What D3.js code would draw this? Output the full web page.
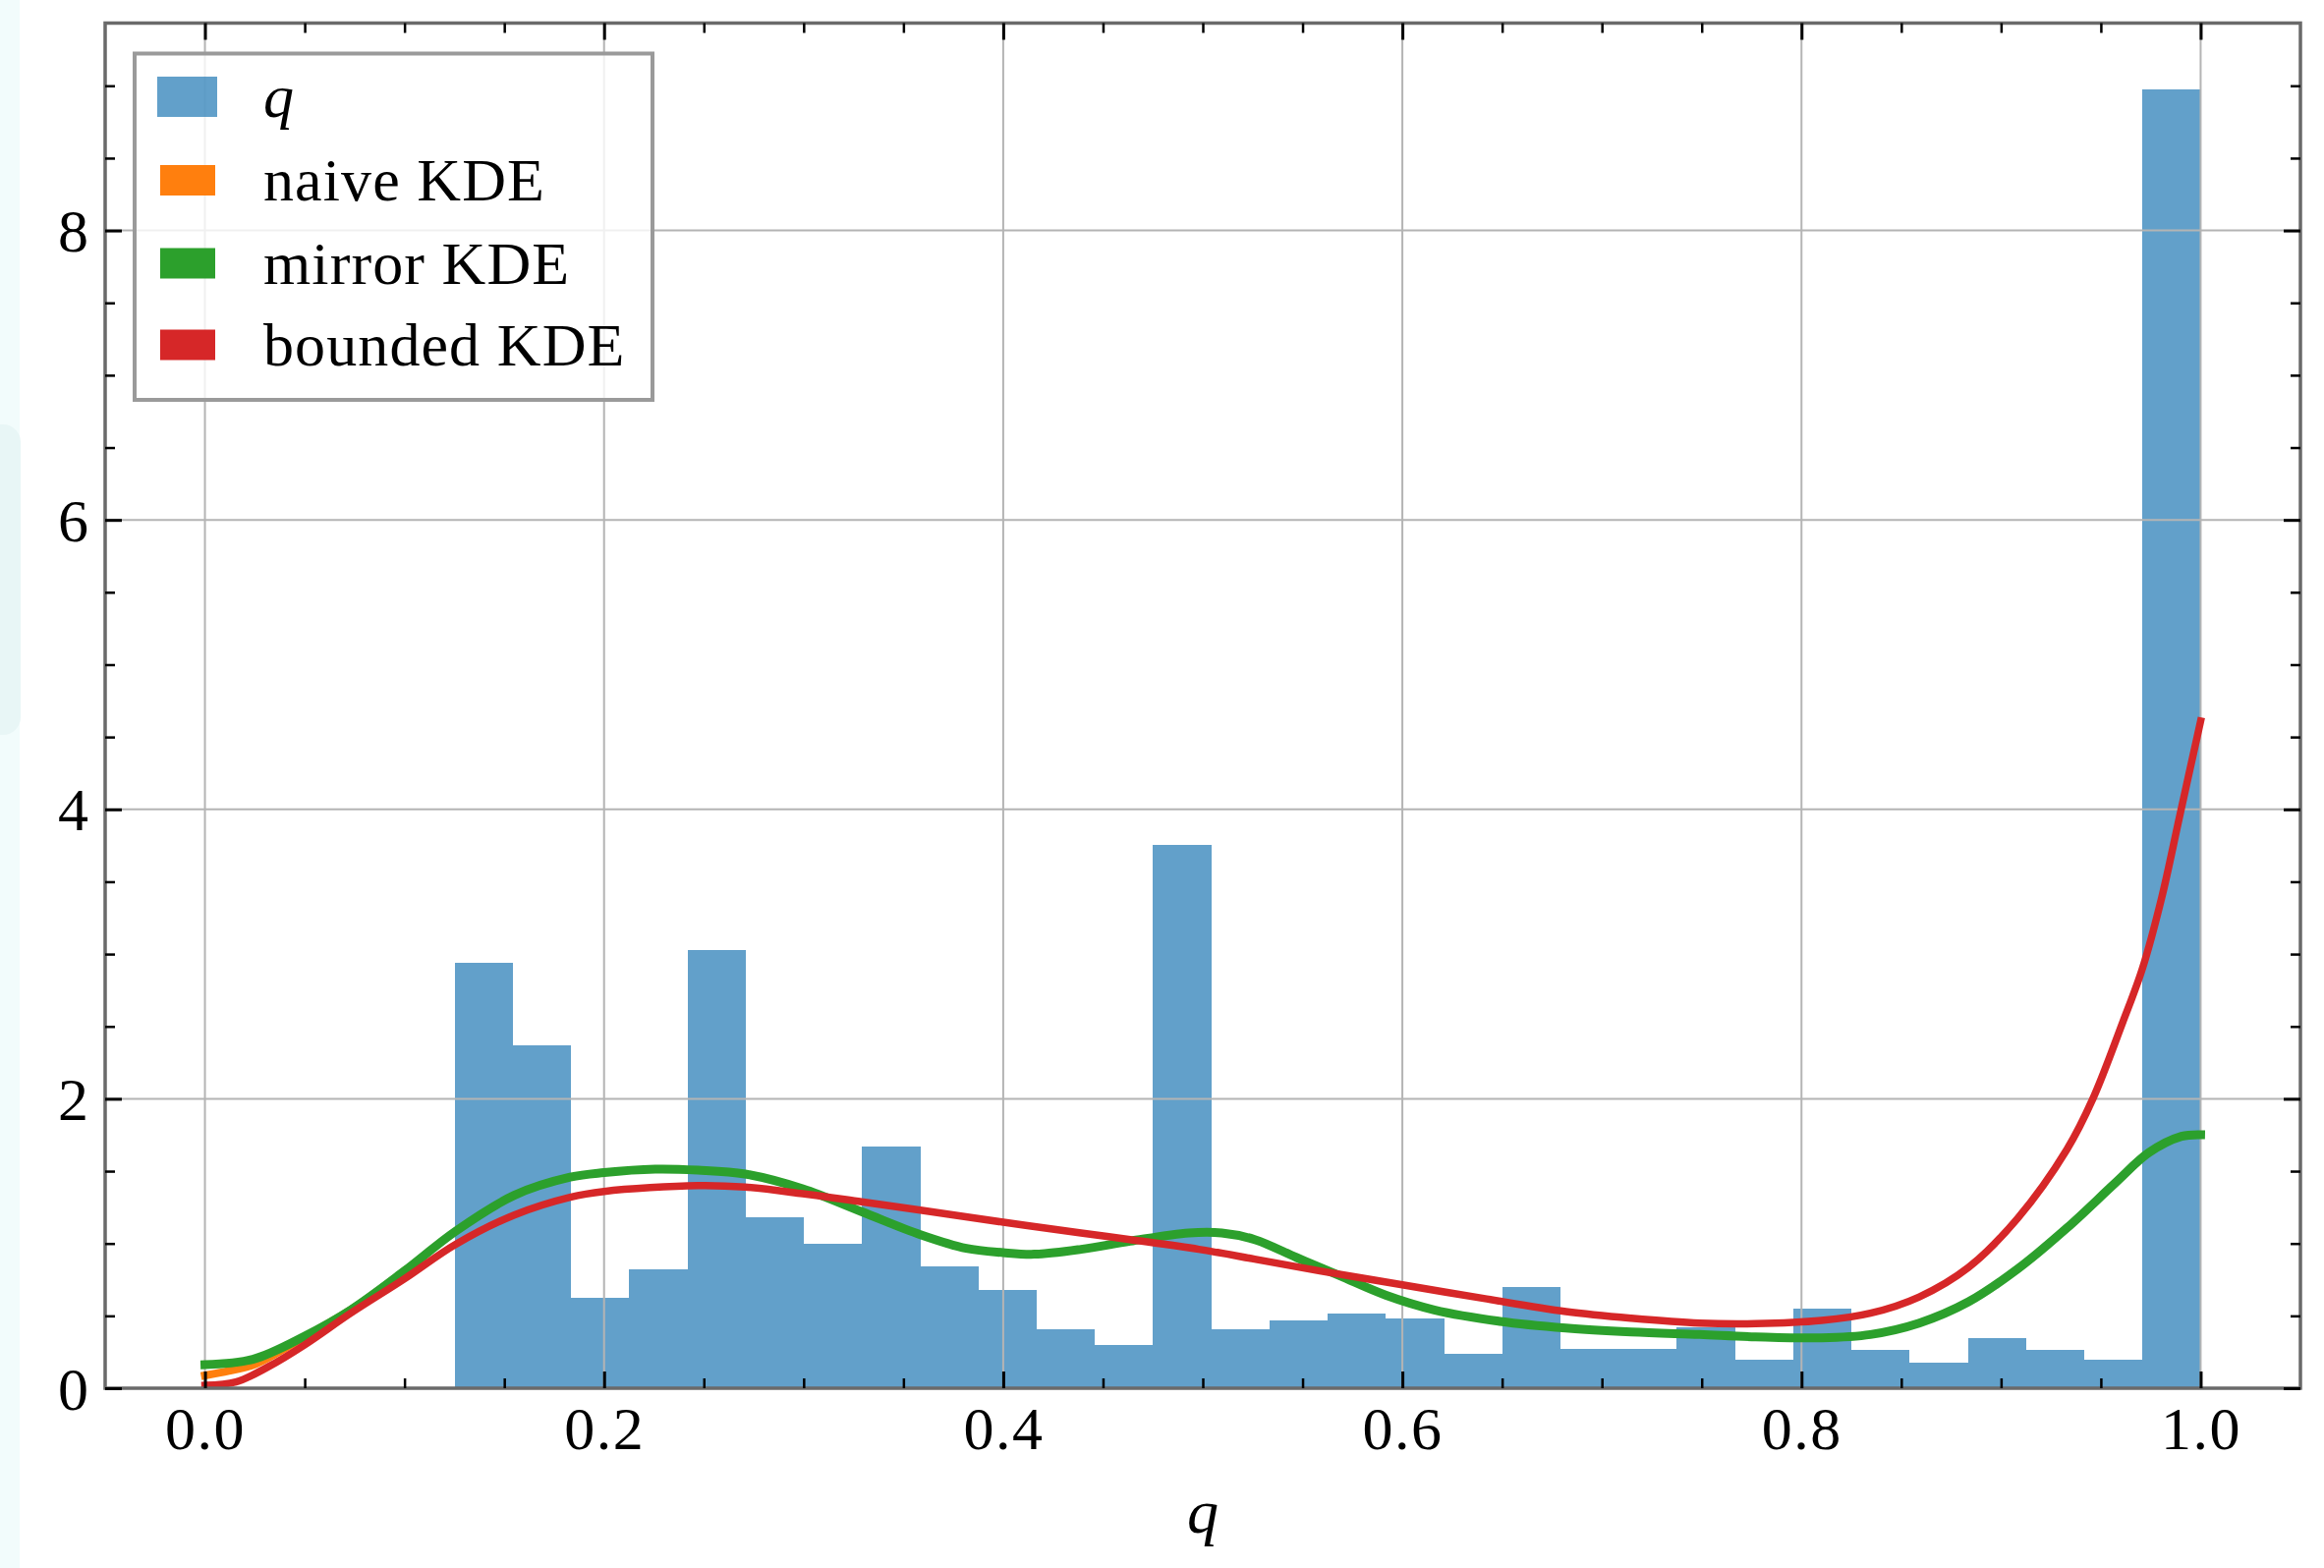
<!DOCTYPE html>
<html><head><meta charset="utf-8">
<script src="https://cdn.jsdelivr.net/npm/d3@7"></script>
<style>html,body{margin:0;padding:0;background:#fff;} svg{display:block;}</style>
</head><body>
<svg id="chart" width="2365" height="1596"></svg>
<script>
// ---------------- data ----------------
const histLow = 0.12516, histHigh = 1.0;
const histDensity = [2.94, 2.367, 0.627, 0.824, 3.026, 1.179, 0.998, 1.668, 0.84, 0.677,
                     0.41, 0.299, 3.757, 0.405, 0.468, 0.518, 0.48, 0.235, 0.70, 0.274,
                     0.274, 0.42, 0.20, 0.552, 0.262, 0.174, 0.344, 0.262, 0.20, 8.975];

const naiveQ = [0.0, 0.012, 0.024, 0.037, 0.05, 0.073, 0.1];
const naiveY = [0.088, 0.12, 0.16, 0.25, 0.355, 0.54, 0.81];

const mirrorQ = [0.0, 0.024, 0.05, 0.073, 0.1, 0.1255, 0.155, 0.183, 0.2, 0.2256, 0.247, 0.2707,
                 0.2995, 0.329, 0.3585, 0.3815, 0.4, 0.4155, 0.439, 0.4636, 0.493, 0.5095, 0.526,
                 0.547, 0.5685, 0.5916, 0.616, 0.649, 0.682, 0.7147, 0.749, 0.777, 0.81, 0.8345,
                 0.859, 0.8837, 0.9083, 0.933, 0.9576, 0.974, 0.9904, 1.0];
const mirrorY = [0.163, 0.20, 0.36, 0.54, 0.81, 1.084, 1.333, 1.458, 1.49, 1.514, 1.507, 1.48,
                 1.378, 1.22, 1.061, 0.966, 0.937, 0.926, 0.96, 1.016, 1.073, 1.073, 1.027,
                 0.903, 0.778, 0.643, 0.541, 0.462, 0.416, 0.389, 0.371, 0.355, 0.348, 0.371,
                 0.45, 0.597, 0.824, 1.107, 1.423, 1.627, 1.74, 1.752];

const boundedQ = [0.0, 0.0155, 0.032, 0.05, 0.073, 0.1, 0.1255, 0.155, 0.183, 0.2, 0.247, 0.2707,
                  0.2995, 0.329, 0.3585, 0.4, 0.439, 0.4636, 0.498, 0.526, 0.5587, 0.6, 0.6408,
                  0.682, 0.7147, 0.749, 0.777, 0.81, 0.8345, 0.859, 0.8837, 0.9083, 0.933, 0.946,
                  0.961, 0.9707, 0.9805, 0.9896, 1.0];
const boundedY = [0.02, 0.043, 0.15, 0.30, 0.518, 0.756, 0.993, 1.197, 1.32, 1.36, 1.40, 1.39,
                  1.344, 1.288, 1.231, 1.147, 1.073, 1.027, 0.96, 0.892, 0.81, 0.715, 0.62,
                  0.53, 0.484, 0.45, 0.446, 0.468, 0.518, 0.631, 0.835, 1.174, 1.65, 2.0,
                  2.53, 2.894, 3.39, 3.96, 4.61];

const xTicks = [0.0, 0.2, 0.4, 0.6, 0.8, 1.0];
const xTickLabels = ["0.0", "0.2", "0.4", "0.6", "0.8", "1.0"];
const xMinorTicks = [0.05, 0.1, 0.15, 0.25, 0.3, 0.35, 0.45, 0.5, 0.55, 0.65, 0.7, 0.75, 0.85, 0.9, 0.95];
const yTicks = [0, 2, 4, 6, 8];
const yTickLabels = ["0", "2", "4", "6", "8"];
const yMinorTicks = [0.5, 1, 1.5, 2.5, 3, 3.5, 4.5, 5, 5.5, 6.5, 7, 7.5, 8.5, 9];
const legendLabels = ["q", "naive KDE", "mirror KDE", "bounded KDE"];
const xLabel = "q";

// ---------------- layout / style ----------------
const FONT = "'Liberation Serif', 'Times New Roman', serif";
const colors = {hist: "#1f77b4", naive: "#ff7f0e", mirror: "#2ca02c", bounded: "#d62728"};
const plot = {left: 107, right: 2341, top: 23.5, bottom: 1413};

const svg = d3.select("#chart");
const x = d3.scaleLinear().domain([-0.05, 1.05]).range([plot.left, plot.right]);
const y = d3.scaleLinear().domain([0, 9.433]).range([plot.bottom, plot.top]);

// screenshot edge artefact on the left
svg.append("rect").attr("x", 0).attr("y", 0).attr("width", 20).attr("height", 1596).attr("fill", "#f2fcfc");
svg.append("rect").attr("x", -20).attr("y", 432).attr("width", 41).attr("height", 316).attr("rx", 18).attr("fill", "#e8f6f6");

svg.append("defs").append("clipPath").attr("id", "plotclip")
  .append("rect").attr("x", plot.left).attr("y", plot.top)
  .attr("width", plot.right - plot.left).attr("height", plot.bottom - plot.top);

// histogram bars
const binEdge = d3.scaleLinear().domain([0, histDensity.length]).range([histLow, histHigh]);
svg.append("g").attr("clip-path", "url(#plotclip)")
  .selectAll("rect").data(histDensity).join("rect")
  .attr("x", (d, i) => x(binEdge(i)))
  .attr("width", (d, i) => x(binEdge(i + 1)) - x(binEdge(i)))
  .attr("y", d => y(d))
  .attr("height", d => y(0) - y(d))
  .attr("fill", colors.hist).attr("fill-opacity", 0.7)
  .attr("shape-rendering", "crispEdges");

// grid
const grid = svg.append("g").attr("stroke", "#b4b4b4").attr("stroke-width", 2);
grid.selectAll("line.gx").data(xTicks).join("line").attr("class", "gx")
  .attr("x1", d => x(d)).attr("x2", d => x(d)).attr("y1", plot.top).attr("y2", plot.bottom);
grid.selectAll("line.gy").data(yTicks).join("line").attr("class", "gy")
  .attr("x1", plot.left).attr("x2", plot.right).attr("y1", d => y(d)).attr("y2", d => y(d));

// KDE lines
const line = d3.line().x(d => x(d[0])).y(d => y(d[1])).curve(d3.curveCatmullRom.alpha(0.5));
const lineG = svg.append("g").attr("clip-path", "url(#plotclip)").attr("fill", "none")
  .attr("stroke-linecap", "square").attr("stroke-linejoin", "round");
lineG.append("path").attr("d", line(d3.zip(naiveQ, naiveY))).attr("stroke", colors.naive).attr("stroke-width", 8);
lineG.append("path").attr("d", line(d3.zip(mirrorQ, mirrorY))).attr("stroke", colors.mirror).attr("stroke-width", 9);
lineG.append("path").attr("d", line(d3.zip(boundedQ, boundedY))).attr("stroke", colors.bounded).attr("stroke-width", 7.5);

// spines
svg.append("rect").attr("x", plot.left).attr("y", plot.top)
  .attr("width", plot.right - plot.left).attr("height", plot.bottom - plot.top)
  .attr("fill", "none").attr("stroke", "#6a6a6a").attr("stroke-width", 3.5);

// axes (ticks inward)
const MAJ = 17, MIN = 10;
function styleAxis(g, w) {
  g.select(".domain").remove();
  g.selectAll(".tick line").attr("stroke", "#000").attr("stroke-width", w);
  g.selectAll("text").attr("font-family", FONT).attr("font-size", 62).attr("fill", "#000");
}
const gxB = svg.append("g").attr("transform", `translate(0,${plot.bottom})`)
  .call(d3.axisBottom(x).tickValues(xTicks).tickFormat((d, i) => xTickLabels[i]).tickSizeInner(-MAJ).tickSizeOuter(0).tickPadding(18));
styleAxis(gxB, 3);
gxB.selectAll("text").attr("dy", "0.71em").attr("letter-spacing", 1.5);
const gxBm = svg.append("g").attr("transform", `translate(0,${plot.bottom})`)
  .call(d3.axisBottom(x).tickValues(xMinorTicks).tickFormat("").tickSizeInner(-MIN).tickSizeOuter(0));
styleAxis(gxBm, 2.5);
const gxT = svg.append("g").attr("transform", `translate(0,${plot.top})`)
  .call(d3.axisTop(x).tickValues(xTicks).tickFormat("").tickSizeInner(-MAJ).tickSizeOuter(0));
styleAxis(gxT, 3);
const gxTm = svg.append("g").attr("transform", `translate(0,${plot.top})`)
  .call(d3.axisTop(x).tickValues(xMinorTicks).tickFormat("").tickSizeInner(-MIN).tickSizeOuter(0));
styleAxis(gxTm, 2.5);

const gyL = svg.append("g").attr("transform", `translate(${plot.left},0)`)
  .call(d3.axisLeft(y).tickValues(yTicks).tickFormat((d, i) => yTickLabels[i]).tickSizeInner(-MAJ).tickSizeOuter(0).tickPadding(17));
styleAxis(gyL, 3);
gyL.selectAll("text").attr("dy", "0.34em");
const gyLm = svg.append("g").attr("transform", `translate(${plot.left},0)`)
  .call(d3.axisLeft(y).tickValues(yMinorTicks).tickFormat("").tickSizeInner(-MIN).tickSizeOuter(0));
styleAxis(gyLm, 2.5);
const gyR = svg.append("g").attr("transform", `translate(${plot.right},0)`)
  .call(d3.axisRight(y).tickValues(yTicks).tickFormat("").tickSizeInner(-MAJ).tickSizeOuter(0));
styleAxis(gyR, 3);
const gyRm = svg.append("g").attr("transform", `translate(${plot.right},0)`)
  .call(d3.axisRight(y).tickValues(yMinorTicks).tickFormat("").tickSizeInner(-MIN).tickSizeOuter(0));
styleAxis(gyRm, 2.5);

// x-axis label
svg.append("text").attr("x", (plot.left + plot.right) / 2).attr("y", 1560)
  .attr("text-anchor", "middle").attr("font-family", FONT).attr("font-style", "italic")
  .attr("font-size", 64).text(xLabel);

// legend
const legend = svg.append("g");
legend.append("rect").attr("x", 137).attr("y", 54.5).attr("width", 527).attr("height", 352.5)
  .attr("fill", "#fff").attr("fill-opacity", 0.8).attr("stroke", "#9a9a9a").attr("stroke-width", 4);
const legendColors = [colors.hist, colors.naive, colors.mirror, colors.bounded];
const legendOpac = [0.7, 1, 1, 1];
const rowCenter = [98.5, 183.5, 268, 351];
legendLabels.forEach((lab, i) => {
  const big = i === 0;
  legend.append("rect")
    .attr("x", big ? 160 : 163).attr("width", big ? 61 : 56)
    .attr("y", rowCenter[i] - (big ? 20.5 : 15.5)).attr("height", big ? 41 : 31)
    .attr("fill", legendColors[i]).attr("fill-opacity", legendOpac[i]);
  legend.append("text").attr("x", 268).attr("y", rowCenter[i] + 20.5)
    .attr("font-family", FONT).attr("font-size", 62).attr("letter-spacing", big ? 0 : 1.1)
    .attr("font-style", big ? "italic" : "normal").text(lab);
});
</script>
</body></html>
